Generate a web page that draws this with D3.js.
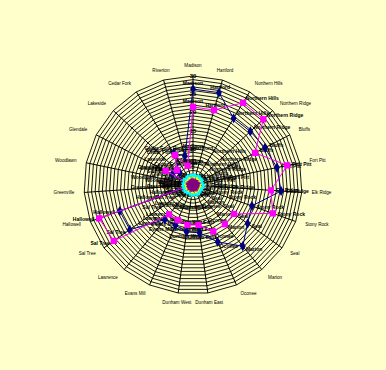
<!DOCTYPE html>
<html><head><meta charset="utf-8">
<script src="https://cdn.jsdelivr.net/npm/d3@7"></script>
<style>
html,body{margin:0;padding:0;background:#FFFFCC;}
svg{display:block;}
text{font-family:"Liberation Sans",Arial,sans-serif;fill:#000;}
</style></head><body>
<svg id="c" width="386" height="370"></svg>
<script>
const categories = ["Madison","Hartford","Northern Hills","Northern Ridge","Bluffs","Fort Pitt","Elk Ridge","Stony Rock","Seal","Marion","Oconee","Dunham East","Dunham West","Evans Mill","Lawrence","Sal Tree","Hallowell","Greenville","Woodlawn","Glendale","Lakeside","Cedar Fork","Riverton"];
const series1 = [26.4,26.4,21.5,21.6,22.3,23.6,24.3,17.2,18.4,21.7,17.1,13.3,13.0,12.1,12.3,21.3,21.4,1.0,1.5,6.4,5.0,10.3,8.3];
const series2 = [21.5,21.4,26.5,26.5,19.2,26.5,21.5,23.3,13.8,13.9,14.0,11.1,11.1,10.5,10.4,26.7,27.4,0.5,0.5,8.5,6.0,9.6,5.5];
const series3 = [2.0,1.8,2.1,1.9,2.2,2.0,1.7,2.1,1.9,2.0,2.2,1.8,2.0,1.9,2.1,1.8,2.0,1.7,2.1,2.0,1.9,2.2,1.8];
const series4 = [2.8,2.6,2.9,2.7,2.8,2.6,2.9,2.7,2.6,2.8,2.9,2.7,2.8,2.6,2.7,2.9,2.6,2.8,2.7,2.9,2.6,2.8,2.7];
const series5 = [1.0,0.8,1.1,0.9,1.0,1.2,0.9,1.0,0.8,1.1,1.0,0.9,1.2,1.0,0.8,1.1,0.9,1.0,1.1,0.9,1.0,0.8,1.1];
const tickValues = [0,5,10,15,20,25,30];

const svg = d3.select("#c");
svg.append("rect").attr("width",386).attr("height",370).attr("fill","#FFFFCC");
const cx = 193, cy = 185, R = 109;
const n = categories.length;
const rScale = d3.scaleLinear().domain([0,30]).range([0,R]);
const ang = i => i*2*Math.PI/n;
const px = (i,v) => cx + rScale(v)*Math.sin(ang(i));
const py = (i,v) => cy - rScale(v)*Math.cos(ang(i));
const anchor = i => {const s=Math.sin(ang(i)); return s>0.3?"start":(s<-0.3?"end":"middle");};
const g = svg.append("g");

// grid rings
g.selectAll("path.ring").data(d3.range(1,31)).enter().append("path")
  .attr("d", v => d3.line()(d3.range(n).map(i=>[px(i,v),py(i,v)])) + "Z")
  .attr("fill","none").attr("stroke","#000").attr("stroke-width",0.9);
// spokes
g.selectAll("line.spoke").data(d3.range(n)).enter().append("line")
  .attr("x1",cx).attr("y1",cy).attr("x2",i=>px(i,30)).attr("y2",i=>py(i,30))
  .attr("stroke","#000").attr("stroke-width",1);

// category labels
g.selectAll("text.cat").data(categories).enter().append("text")
  .attr("x",(d,i)=>cx + (R+10)*Math.sin(ang(i)))
  .attr("y",(d,i)=>cy - (R+10)*Math.cos(ang(i)))
  .attr("text-anchor",(d,i)=>anchor(i))
  .attr("dominant-baseline","middle")
  .attr("font-size",4.6).text(d=>d);

// tick labels on top spoke
g.selectAll("text.tick").data(tickValues.slice(1)).enter().append("text")
  .attr("x",cx).attr("y",v=>py(0,v)+2).attr("text-anchor","middle")
  .attr("font-size",6).attr("font-weight","bold").text(v=>v);

const all = [
 {vals:series1,color:"#000080",shape:d3.symbolDiamond,size:30,off:5},
 {vals:series2,color:"#FF00FF",shape:d3.symbolSquare,size:40,off:5},
 {vals:series3,color:"#FFFF00",shape:d3.symbolTriangle,size:12,off:16},
 {vals:series4,color:"#00FFFF",shape:d3.symbolCross,size:10,off:28},
 {vals:series5,color:"#800080",shape:d3.symbolStar,size:22,off:6}
];

// data labels (category names placed radially outward)
all.forEach(s=>{
  g.selectAll(null).data(s.vals).enter().append("text")
   .attr("x",(v,i)=>cx + (rScale(v)+s.off)*Math.sin(ang(i)))
   .attr("y",(v,i)=>cy - (rScale(v)+s.off)*Math.cos(ang(i)))
   .attr("text-anchor",(v,i)=>anchor(i))
   .attr("dominant-baseline","middle")
   .attr("font-size",5).attr("font-weight","bold").text((v,i)=>categories[i]);
});

all.forEach(s=>{
  const pts = s.vals.map((v,i)=>[px(i,v),py(i,v)]);
  g.append("path").attr("d", d3.line()(pts)+"Z").attr("fill","none")
   .attr("stroke",s.color).attr("stroke-width",1);
  g.selectAll(null).data(s.vals).enter().append("path")
   .attr("transform",(v,i)=>`translate(${px(i,v)},${py(i,v)})`)
   .attr("d", d3.symbol().type(s.shape).size(s.size))
   .attr("fill",s.color);
});
</script></body></html>
